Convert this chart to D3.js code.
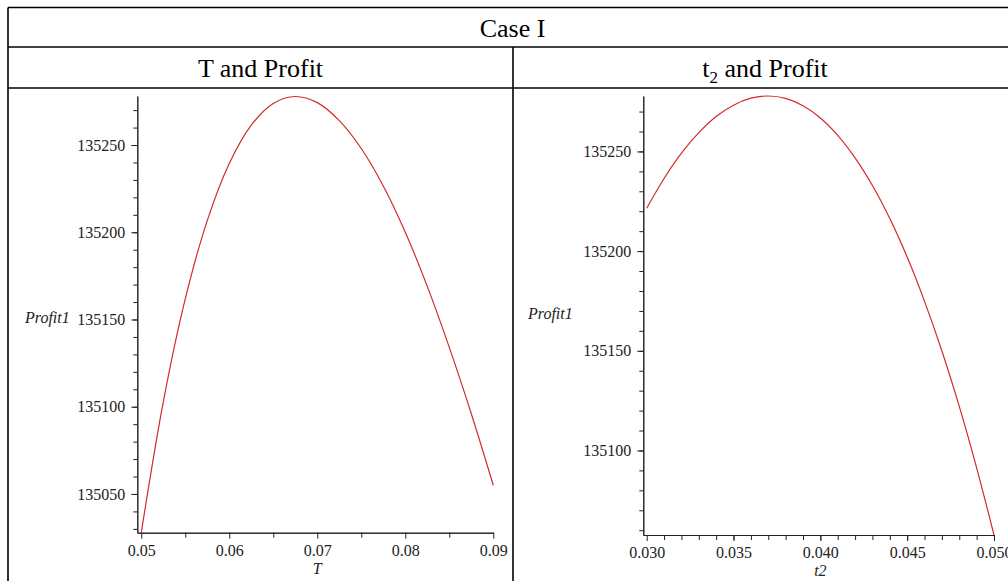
<!DOCTYPE html>
<html>
<head>
<meta charset="utf-8">
<script src="https://cdn.jsdelivr.net/npm/d3@7"></script>
<style>
	body { margin: 0; background: #fff; }
	svg { display: block; }
	.cell-line { stroke: #000; stroke-width: 1.6; }
	.head { font-family: "Liberation Serif", serif; font-size: 26px; fill: #000; }
	.tick-label { font-family: "Liberation Serif", serif; font-size: 16px; fill: #222; }
	.axis-name { font-family: "Liberation Serif", serif; font-size: 16px; font-style: italic; fill: #222; }
	.curve { fill: none; stroke: #d42a2a; stroke-width: 1.2; }
	.axis path, .axis line { stroke: #222; }
</style>
</head>
<body>
<svg id="chart"></svg>
<script>
// left plot: T against Profit1
const leftT = [0.05, 0.0525, 0.055, 0.0575, 0.06, 0.0625, 0.065, 0.0675, 0.07, 0.0725, 0.075, 0.0775, 0.08, 0.0825, 0.085, 0.0875, 0.09];
const leftProfit = [135027.8, 135102.7, 135161.8, 135206.7, 135239.4, 135261.4, 135273.8, 135277.8, 135274.3, 135264, 135248, 135226.5, 135200, 135169, 135134, 135096, 135055];
const leftXTicks = [0.05, 0.06, 0.07, 0.08, 0.09];
const leftYTicks = [135050, 135100, 135150, 135200, 135250];

// right plot: t2 against Profit1
const rightT2 = [0.030, 0.031, 0.032, 0.033, 0.034, 0.035, 0.036, 0.037, 0.038, 0.039, 0.040, 0.041, 0.042, 0.043, 0.044, 0.045, 0.046, 0.047, 0.048, 0.049, 0.050];
const rightProfit = [135221.5, 135236.4, 135249.1, 135259.4, 135267.5, 135273.2, 135276.7, 135277.8, 135276.6, 135272.9, 135266.8, 135258.1, 135246.8, 135232.9, 135216.3, 135197, 135174.8, 135149.9, 135122.1, 135091.3, 135057.6];
const rightXTicks = [0.030, 0.035, 0.040, 0.045, 0.050];
const rightYTicks = [135100, 135150, 135200, 135250];

const headTitle = "Case I";
const width = 1008;
const height = 581;

const svg = d3.select("#chart")
	.attr("width", width)
	.attr("height", height);

// table frame
const tableLeft = 8, tableRight = 1017, tableTop = 7.5, row1 = 47, row2 = 88, divider = 513;
const lines = [
	[tableLeft, tableTop, tableRight, tableTop],
	[tableLeft, row1, tableRight, row1],
	[tableLeft, row2, tableRight, row2],
	[tableLeft, tableTop, tableLeft, height + 5],
	[divider, row1, divider, height + 5]
];
svg.selectAll(".cell-line")
	.data(lines)
	.enter()
	.append("line")
	.attr("class", "cell-line")
	.attr("x1", (d) => d[0]).attr("y1", (d) => d[1])
	.attr("x2", (d) => d[2]).attr("y2", (d) => d[3]);

svg.append("text")
	.attr("class", "head")
	.attr("x", (tableLeft + tableRight) / 2)
	.attr("y", 37)
	.attr("text-anchor", "middle")
	.text(headTitle);

svg.append("text")
	.attr("class", "head")
	.attr("x", (tableLeft + divider) / 2)
	.attr("y", 77)
	.attr("text-anchor", "middle")
	.text("T and Profit");

const sub = svg.append("text")
	.attr("class", "head")
	.attr("x", (divider + tableRight) / 2)
	.attr("y", 77)
	.attr("text-anchor", "middle");
sub.append("tspan").text("t");
sub.append("tspan").attr("font-size", "17px").attr("dy", 6).text("2");
sub.append("tspan").attr("dy", -6).text(" and Profit");

function drawPlot(opts) {
	const x = d3.scaleLinear().domain(opts.xDomain).range(opts.xRange);
	const y = d3.scaleLinear().domain(opts.yDomain).range(opts.yRange);
	const g = svg.append("g");
	const x0 = opts.xRange[0];
	const y0 = opts.yRange[0];

	// minor ticks, no labels
	g.append("g")
		.attr("class", "axis")
		.attr("transform", `translate(${x0},0)`)
		.call(d3.axisLeft(y).tickValues(opts.yMinor).tickSize(4).tickSizeOuter(0).tickFormat(""));
	g.append("g")
		.attr("class", "axis")
		.attr("transform", `translate(0,${y0})`)
		.call(d3.axisBottom(x).tickValues(opts.xMinor).tickSize(5).tickSizeOuter(0).tickFormat(""));

	// major ticks with labels
	const yAxis = g.append("g")
		.attr("class", "axis")
		.attr("transform", `translate(${x0},0)`)
		.call(d3.axisLeft(y).tickValues(opts.yTicks).tickSize(6).tickPadding(6).tickSizeOuter(0).tickFormat(d3.format("d")));
	const xAxis = g.append("g")
		.attr("class", "axis")
		.attr("transform", `translate(0,${y0})`)
		.call(d3.axisBottom(x).tickValues(opts.xTicks).tickSize(6).tickPadding(6).tickSizeOuter(0).tickFormat(d3.format(opts.xFormat)));
	[yAxis, xAxis].forEach((a) => {
		a.selectAll("text").attr("class", "tick-label").attr("fill", null).attr("font-size", null).attr("font-family", null);
		a.attr("font-size", null).attr("font-family", null);
	});

	g.append("path")
		.datum(opts.xs.map((v, i) => [v, opts.ys[i]]))
		.attr("class", "curve")
		.attr("d", d3.line().x((d) => x(d[0])).y((d) => y(d[1])).curve(d3.curveCatmullRom));

	g.append("text")
		.attr("class", "axis-name")
		.attr("x", opts.yLabelX)
		.attr("y", opts.yLabelY)
		.attr("dy", "0.35em")
		.text("Profit1");
	g.append("text")
		.attr("class", "axis-name")
		.attr("x", x(opts.xLabelAt))
		.attr("y", y0 + 41)
		.attr("text-anchor", "middle")
		.text(opts.xName);
}

drawPlot({
	xs: leftT, ys: leftProfit,
	xDomain: [0.04955, 0.09], xRange: [137.3, 493.3],
	yDomain: [135027.8, 135278.1], yRange: [532.7, 96],
	xTicks: leftXTicks, xMinor: [0.055, 0.065, 0.075, 0.085],
	yTicks: leftYTicks, yMinor: d3.range(135030, 135280, 10),
	xFormat: ".2f", xName: "T", xLabelAt: 0.07,
	yLabelX: 25, yLabelY: 317
});

drawPlot({
	xs: rightT2, ys: rightProfit,
	xDomain: [0.029804, 0.050], xRange: [643.3, 994],
	yDomain: [135057.6, 135277.8], yRange: [535, 96],
	xTicks: rightXTicks, xMinor: d3.range(0.031, 0.050, 0.001),
	yTicks: rightYTicks, yMinor: d3.range(135060, 135280, 10),
	xFormat: ".3f", xName: "t2", xLabelAt: 0.040,
	yLabelX: 528, yLabelY: 313
});
</script>
</body>
</html>
